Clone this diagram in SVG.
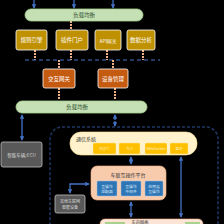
<svg xmlns="http://www.w3.org/2000/svg" width="224" height="224" viewBox="0 0 224 224">
<style>
text{font-family:"Noto Sans CJK SC","Liberation Sans",sans-serif;text-anchor:middle;dominant-baseline:central}
.bar{fill:#c5e0b4;stroke:#a9d18e;stroke-width:0.8}
.bart{font-size:5.5px;fill:#2f4f2f}
.gold{fill:#bf9000;stroke:#fff;stroke-width:0.8}
.org{fill:#c55a11;stroke:#fff;stroke-width:0.8}
.wt{font-size:5.5px;fill:#fff}
.gray{fill:#595959;stroke:#bfbfbf;stroke-width:0.8}
.gt{font-size:4.5px;fill:#d9d9d9}
.yel{fill:#ffc000;stroke:#ffe699;stroke-width:0.5}
.yt{font-size:3.6px;fill:#fff2cc}
.blu{fill:#2e75b6;stroke:#9dc3e6;stroke-width:0.5}
.bt{font-size:3.8px;fill:#ddebf7}
.sal{stroke:#f4b183;stroke-width:2;stroke-dasharray:2 1;fill:none}
.bl{stroke:#4472c4;stroke-width:1.3;fill:none}
</style>
<defs>
<marker id="ah" viewBox="0 0 6 6" refX="5" refY="3" markerWidth="3.5" markerHeight="3.5" orient="auto-start-reverse"><path d="M0,0L6,3L0,6z" fill="#4472c4"/></marker>
</defs>
<rect width="224" height="224" fill="#000"/>
<rect x="50" y="127" width="168" height="110" rx="12" fill="none" stroke="#1f3864" stroke-width="1.5" stroke-dasharray="3 2"/>
<g id="connectors">
<line class="bl" x1="34" y1="0" x2="34" y2="8" marker-end="url(#ah)"/>
<line class="bl" x1="74" y1="0" x2="74" y2="8" marker-end="url(#ah)"/>
<line class="bl" x1="113" y1="0" x2="113" y2="8" marker-end="url(#ah)"/>
<line class="sal" x1="71" y1="21" x2="71" y2="30"/>
<line class="sal" x1="35" y1="50" x2="35" y2="60"/>
<line class="sal" x1="71" y1="50" x2="71" y2="60"/>
<line class="sal" x1="107" y1="50" x2="107" y2="60"/>
<line class="sal" x1="143" y1="50" x2="143" y2="60"/>
<line x1="25" y1="60" x2="160" y2="60" stroke="#4472c4" stroke-width="1" stroke-dasharray="4 3"/>
<line class="sal" x1="59" y1="60" x2="59" y2="69"/>
<line class="sal" x1="113" y1="60" x2="113" y2="69"/>
<line class="sal" x1="59" y1="88" x2="59" y2="100"/>
<line class="sal" x1="115" y1="88" x2="115" y2="100"/>
<line class="bl" x1="22" y1="115" x2="22" y2="140" marker-start="url(#ah)" marker-end="url(#ah)"/>
<line class="bl" x1="115" y1="115" x2="115" y2="126" marker-start="url(#ah)" marker-end="url(#ah)" stroke-dasharray="2 1"/>
<line class="bl" x1="131" y1="157" x2="131" y2="164" marker-start="url(#ah)" marker-end="url(#ah)"/>
<line class="bl" x1="181" y1="157" x2="181" y2="217" marker-start="url(#ah)" marker-end="url(#ah)"/>
<line class="bl" x1="131" y1="202" x2="131" y2="217" marker-start="url(#ah)" marker-end="url(#ah)"/>
<path class="bl" d="M70,193V184H89" marker-start="url(#ah)" marker-end="url(#ah)"/>
</g>
<g id="lb1"><rect class="bar" x="25" y="9" width="118" height="12" rx="6"/><text class="bart" x="84" y="15">负载均衡</text></g>
<g id="n1"><rect class="gold" x="16" y="30" width="31" height="20" rx="2"/><text class="wt" x="31.5" y="40">规则引擎</text></g>
<g id="n2"><rect class="gold" x="56" y="30" width="32" height="20" rx="2"/><text class="wt" x="72" y="40">插件门户</text></g>
<g id="n3"><rect class="gold" x="95" y="30" width="26" height="20" rx="2"/><text class="wt" x="108" y="40" style="font-size:4.8px">API网关</text></g>
<g id="n4"><rect class="gold" x="127" y="30" width="28" height="20" rx="2"/><text class="wt" x="141" y="40">数据分析</text></g>
<g id="n5"><rect class="org" x="43" y="69" width="32" height="19" rx="2"/><text class="wt" x="59" y="78.5">交互网关</text></g>
<g id="n6"><rect class="org" x="98" y="69" width="30" height="19" rx="2"/><text class="wt" x="113" y="78.5">设备管理</text></g>
<g id="lb2"><rect class="bar" x="16" y="101" width="131" height="12" rx="6"/><text class="bart" x="77" y="107">负载均衡</text></g>
<g id="g1"><rect class="gray" x="1" y="142" width="41" height="25" rx="2"/><text class="gt" x="21.5" y="154.5">智能车辆/ECU</text></g>
<g id="comm"><rect x="70" y="132" width="127" height="23" rx="11" fill="#fff2cc" stroke="#ffe699" stroke-width="0.6"/>
<text x="86" y="138" style="font-size:5px;fill:#333">通信系统</text>
<rect class="yel" x="93" y="143" width="23" height="11" rx="1"/><text class="yt" x="104.5" y="148.5">MQTT</text>
<rect class="yel" x="119" y="143" width="21" height="11" rx="1"/><text class="yt" x="129.5" y="148.5">TLS</text>
<rect class="yel" x="145" y="143" width="22" height="11" rx="1"/><text class="yt" x="156" y="148.5">WebSocket</text>
<rect class="yel" x="170" y="143" width="18" height="11" rx="1"/><text class="yt" x="179" y="148.5">蓝牙</text></g>
<g id="plat"><rect x="91" y="166" width="75" height="34" rx="6" fill="#f8cbad" stroke="#f4b183" stroke-width="0.6"/>
<text x="128" y="174" style="font-size:5px;fill:#333">车联互操作平台</text>
<rect class="blu" x="97" y="181" width="20" height="15" rx="1"/><text class="bt" x="107" y="186">互操作</text><text class="bt" x="107" y="191">适配器</text>
<rect class="blu" x="121" y="181" width="20" height="15" rx="1"/><text class="bt" x="131" y="186">互操作</text><text class="bt" x="131" y="191">中间件</text>
<rect class="blu" x="145" y="181" width="18" height="15" rx="1"/><text class="bt" x="154" y="186">应用层</text><text class="bt" x="154" y="191">互操作</text></g>
<g id="g2"><rect class="gray" x="55" y="195" width="30" height="18" rx="2"/><text class="gt" x="70" y="201" style="font-size:4px">其他车联网</text><text class="gt" x="70" y="207" style="font-size:4px">智能设备</text></g>
<g id="car"><rect x="100" y="219" width="103" height="20" rx="5" fill="#fce4d6" stroke="#f4b183" stroke-width="0.6"/>
<text x="140" y="221.6" style="font-size:4.2px;fill:#333">车内网络</text>
<rect x="105" y="222" width="20" height="6" fill="#a9d18e"/>
<rect x="185" y="222" width="15" height="6" fill="#a9d18e"/></g>
</svg>
